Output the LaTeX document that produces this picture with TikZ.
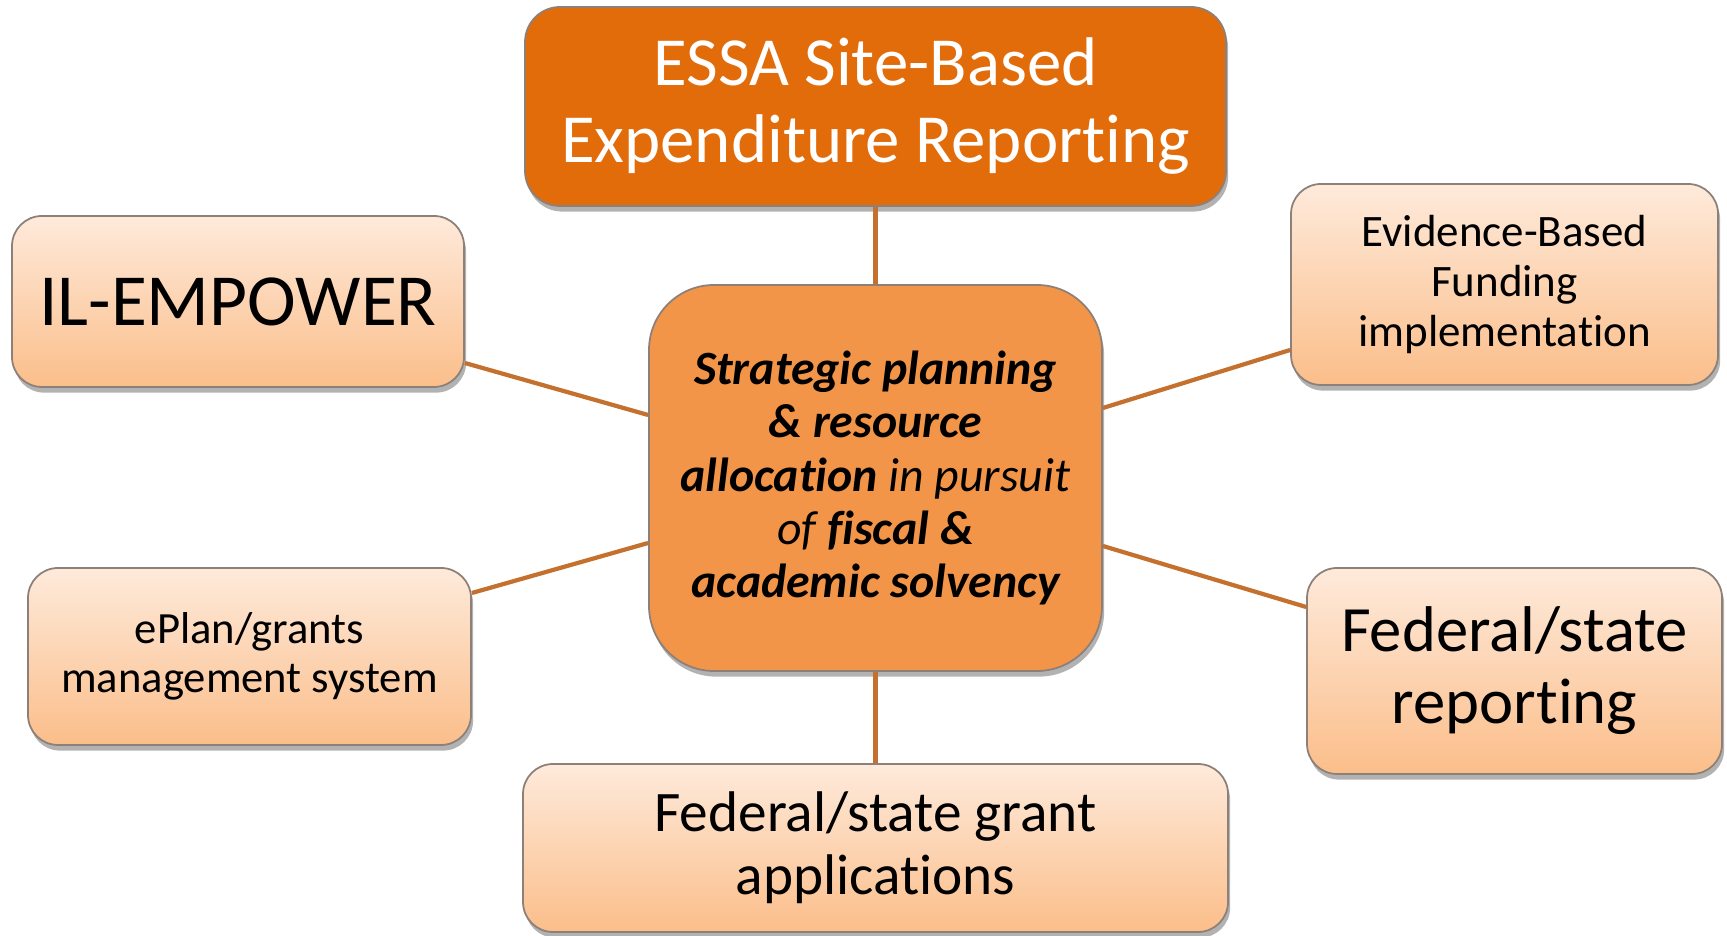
\documentclass[tikz,border=0pt]{standalone}
\usepackage{fontspec}
\setmainfont{Carlito}[Ligatures={NoCommon}]
\usetikzlibrary{shadows,calc}
\definecolor{topfill}{HTML}{E36C0A}
\definecolor{ctrfill}{HTML}{F39548}
\definecolor{lighttop}{HTML}{FEEADB}
\definecolor{lightbot}{HTML}{FBBE8A}
\definecolor{linkcol}{HTML}{C4702F}
\definecolor{edgecol}{HTML}{8C8078}
\tikzset{
  boxshadow/.style={drop shadow={shadow xshift=0.6pt,shadow yshift=-1.6pt,opacity=0.3,fill=black}},
  outerbox/.style={draw=edgecol,line width=0.5pt,rounded corners=0.3cm,top color=lighttop,bottom color=lightbot,
    align=center,inner sep=0pt,boxshadow,text=black},
  topbox/.style={draw=edgecol,line width=0.5pt,rounded corners=0.35cm,fill=topfill,align=center,inner sep=0pt,
    boxshadow,text=white},
  ctrbox/.style={draw=edgecol,line width=0.5pt,rounded corners=0.65cm,fill=ctrfill,align=center,inner sep=0pt,
    boxshadow,text=black},
  link/.style={draw=linkcol,line width=1.2pt}
}
\begin{document}
\begin{tikzpicture}
\useasboundingbox (0,0) rectangle (17.27,9.36);
\node[topbox,minimum width=7.01cm,minimum height=1.99cm,font=\fontsize{19.6}{21.9}\selectfont] (top) at (8.755,8.295) {ESSA Site-Based\\Expenditure Reporting};
\node[ctrbox,minimum width=4.53cm,minimum height=3.86cm,font=\fontsize{13.6}{15.1}\selectfont] (ctr) at (8.755,4.58)
  {\bfseries\itshape Strategic planning\\ \bfseries\itshape \& resource\\ {\bfseries\itshape allocation} {\itshape in pursuit}\\ {\itshape of} {\bfseries\itshape fiscal \&}\\ \bfseries\itshape academic solvency};
\node[outerbox,minimum width=4.52cm,minimum height=1.71cm,font=\fontsize{20.9}{23}\selectfont] (il) at (2.38,6.345) {IL-EMPOWER};
\node[outerbox,minimum width=4.27cm,minimum height=2.01cm,font=\fontsize{12.8}{14.1}\selectfont] (ev) at (15.045,6.515) {Evidence-Based\\Funding\\implementation};
\node[outerbox,minimum width=4.43cm,minimum height=1.77cm,font=\fontsize{12.7}{14.1}\selectfont] (ep) at (2.495,2.795) {ePlan/grants\\management system};
\node[outerbox,minimum width=4.15cm,minimum height=2.06cm,font=\fontsize{18.4}{20.5}\selectfont] (fr) at (15.145,2.65) {Federal/state\\reporting};
\node[outerbox,minimum width=7.05cm,minimum height=1.68cm,font=\fontsize{16.3}{17.8}\selectfont] (ga) at (8.755,0.88) {Federal/state grant\\applications};
% connectors
\draw[link] (top.south) -- (ctr.north);
\draw[link] (ctr.south) -- (ga.north);
\draw[link] ($(il.east)+(0,-0.615)$) -- ($(ctr.west)+(0,0.63)$);
\draw[link] ($(ep.east)+(0,0.635)$) -- ($(ctr.west)+(0,-0.65)$);
\draw[link] ($(ev.west)+(0,-0.655)$) -- ($(ctr.east)+(0,0.70)$);
\draw[link] ($(fr.west)+(0,0.64)$) -- ($(ctr.east)+(0,-0.68)$);
\end{tikzpicture}
\end{document}
